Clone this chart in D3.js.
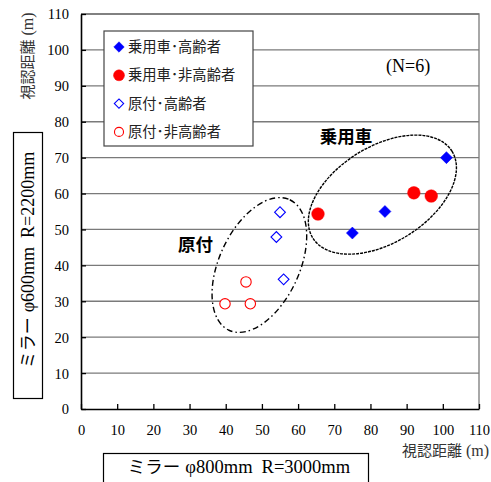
<!DOCTYPE html>
<html>
<head>
<meta charset="utf-8">
<script src="https://cdn.jsdelivr.net/npm/d3@7"></script>
<style>
  body { margin: 0; background: #fff; }
  svg { display: block; }
  .num { font-family: "Liberation Serif", "Times New Roman", serif; }
  .jp { font-family: "Noto Sans CJK JP", sans-serif; }
</style>
</head>
<body>
<svg id="chart" width="491" height="482"></svg>
<script>
// series: [視認距離 φ800, 視認距離 φ600]
var carElderly    = [[75, 49], [84, 55], [101, 70]];
var carYoung      = [[65.5, 54.3], [92, 60.2], [96.8, 59.3]];
var mopedElderly  = [[55, 54.8], [54, 47.9], [56, 36.1]];
var mopedYoung    = [[45.6, 35.4], [39.8, 29.3], [46.8, 29.3]];

var seriesNames = ["乗用車･高齢者", "乗用車･非高齢者", "原付･高齢者", "原付･非高齢者"];
var xTicks = d3.range(0, 111, 10);
var yTicks = d3.range(0, 111, 10);

var svg = d3.select("#chart");
var margin = {left: 81, top: 14, right: 12, bottom: 73};
var width = 491 - margin.left - margin.right,
    height = 482 - margin.top - margin.bottom;

var x = d3.scaleLinear().domain([0, 110]).range([margin.left, margin.left + width]);
var y = d3.scaleLinear().domain([0, 110]).range([margin.top + height, margin.top]);

// gridlines
svg.append("g")
  .selectAll("line")
  .data(yTicks.slice(1))
  .enter()
  .append("line")
    .attr("x1", x(0)).attr("x2", x(110))
    .attr("y1", function(d){ return y(d) })
    .attr("y2", function(d){ return y(d) })
    .attr("stroke", "#7a7a7a")
    .attr("stroke-width", 1.3)

// top / right frame (grey)
svg.append("path")
  .attr("d", "M" + x(0) + "," + y(110) + "H" + x(110) + "V" + y(0))
  .attr("fill", "none")
  .attr("stroke", "#7a7a7a")
  .attr("stroke-width", 1.3)

// axes
var xAxis = d3.axisBottom(x).tickValues(xTicks).tickSizeInner(-5).tickSizeOuter(0).tickPadding(16);
var yAxis = d3.axisLeft(y).tickValues(yTicks).tickSizeInner(-5).tickSizeOuter(0).tickPadding(12);

var gx = svg.append("g").attr("transform", "translate(0," + y(0) + ")").call(xAxis);
var gy = svg.append("g").attr("transform", "translate(" + x(0) + ",0)").call(yAxis);
[gx, gy].forEach(function(g){
  g.attr("font-family", null).attr("font-size", null);
  g.select(".domain").attr("stroke", "#000").attr("stroke-width", 1.6);
  g.selectAll(".tick line").attr("stroke", "#000").attr("stroke-width", 1.3);
  g.selectAll(".tick text")
    .attr("class", "num")
    .attr("font-size", 14.5)
    .attr("fill", "#000");
});
gy.selectAll(".tick text").attr("dy", "0.34em");

// ellipse annotations (centre in data units, radii in px)
var groups = [
  {cx: 83.3, cy: 59.7, rx: 82, ry: 48, angle: -32, dash: "3,1", label: "乗用車", lx: 66, ly: 75.7},
  {cx: 49.3, cy: 40.1, rx: 72, ry: 40, angle: -65, dash: "6,3,1.5,3", label: "原付", lx: 26.8, ly: 45.7}
];

svg.append("g")
  .selectAll("ellipse")
  .data(groups)
  .enter()
  .append("ellipse")
    .attr("transform", function(d){ return "translate(" + x(d.cx) + "," + y(d.cy) + ") rotate(" + d.angle + ")" })
    .attr("rx", function(d){ return d.rx })
    .attr("ry", function(d){ return d.ry })
    .attr("fill", "none")
    .attr("stroke", "#000")
    .attr("stroke-width", 1.4)
    .attr("stroke-dasharray", function(d){ return d.dash })

svg.append("g")
  .selectAll("text")
  .data(groups)
  .enter()
  .append("text")
    .attr("class", "jp")
    .attr("x", function(d){ return x(d.lx) })
    .attr("y", function(d){ return y(d.ly) })
    .attr("font-size", 17.5)
    .attr("font-weight", "bold")
    .attr("dy", "0.35em")
    .text(function(d){ return d.label })

// markers
var diamond = d3.symbol().type(d3.symbolSquare);
var styles = [
  {data: carElderly,   shape: "diamond", size: 72, fill: "#0000ff", stroke: "#0000ff"},
  {data: carYoung,     shape: "circle",  r: 6.3,   fill: "#ff0000", stroke: "#ff0000"},
  {data: mopedElderly, shape: "diamond", size: 58, fill: "#fff",    stroke: "#0000ff"},
  {data: mopedYoung,   shape: "circle",  r: 5.2,   fill: "#fff",    stroke: "#ff0000"}
];

function marker(g, s, k) {
  if (s.shape == "diamond") {
    g.append("path").attr("d", diamond.size(s.size * k * k)()).attr("transform", "rotate(45)");
  } else {
    g.append("circle").attr("r", s.r * k);
  }
  g.selectAll("path, circle")
    .attr("fill", s.fill)
    .attr("stroke", s.stroke)
    .attr("stroke-width", s.fill == "#fff" ? 1.1 : 0.5);
}

styles.forEach(function(s){
  svg.append("g")
    .selectAll("g")
    .data(s.data)
    .enter()
    .append("g")
      .attr("transform", function(d){ return "translate(" + x(d[0]) + "," + y(d[1]) + ")" })
      .each(function(){ marker(d3.select(this), s, 1) })
});

// legend
var legend = svg.append("g").attr("transform", "translate(104,31)");
legend.append("rect")
  .attr("width", 149).attr("height", 115)
  .attr("fill", "#fff").attr("stroke", "#444").attr("stroke-width", 1.2)

legend.selectAll("g.row")
  .data(styles)
  .enter()
  .append("g")
    .attr("class", "row")
    .attr("transform", function(d, i){ return "translate(15," + (16 + i * 28.3) + ")" })
    .each(function(s, i){
      var g = d3.select(this);
      marker(g, s, 0.87);
      g.append("text")
        .attr("class", "jp")
        .attr("x", 9)
        .attr("dy", "0.36em")
        .attr("font-size", 14.3)
        .attr("fill", "#222")
        .text(seriesNames[i]);
    })

// (N=6)
svg.append("text")
  .attr("class", "num")
  .attr("x", x(84.3)).attr("y", y(95.5))
  .attr("dy", "0.35em")
  .attr("font-size", 18)
  .text("(N=6)")

// mixed-font text helper
function label(g, parts) {
  parts.forEach(function(p){
    g.append("tspan")
      .attr("class", p[0])
      .attr("font-size", p[1])
      .attr("dx", p[2] || 0)
      .text(p[3]);
  });
  return g;
}

// axis titles
label(svg.append("text")
  .attr("transform", "translate(33,56) rotate(-90)")
  .attr("text-anchor", "middle")
  .attr("fill", "#333"),
  [["jp", 15, 0, "視認距離"], ["num", 16, 4, "(m)"]])

label(svg.append("text")
  .attr("x", 489).attr("y", 456)
  .attr("text-anchor", "end")
  .attr("fill", "#333"),
  [["jp", 15, 0, "視認距離"], ["num", 16, 4, "(m)"]])

// mirror boxes
svg.append("rect")
  .attr("x", 103.5).attr("y", 453.5).attr("width", 265).attr("height", 34)
  .attr("fill", "none").attr("stroke", "#000").attr("stroke-width", 1.2)
label(svg.append("text")
  .attr("x", 239).attr("y", 467)
  .attr("text-anchor", "middle")
  .attr("dy", "0.35em"),
  [["jp", 17.5, 0, "ミラー"], ["num", 18.5, 5, "φ800mm"], ["num", 18.5, 9, "R=3000mm"]])

svg.append("rect")
  .attr("x", 13.5).attr("y", 132.5).attr("width", 29).attr("height", 266)
  .attr("fill", "none").attr("stroke", "#000").attr("stroke-width", 1.2)
label(svg.append("text")
  .attr("transform", "translate(28,260) rotate(-90)")
  .attr("text-anchor", "middle")
  .attr("dy", "0.35em"),
  [["jp", 17, 0, "ミラー"], ["num", 18, 5, "φ600mm"], ["num", 18, 9, "R=2200mm"]])
</script>
</body>
</html>
